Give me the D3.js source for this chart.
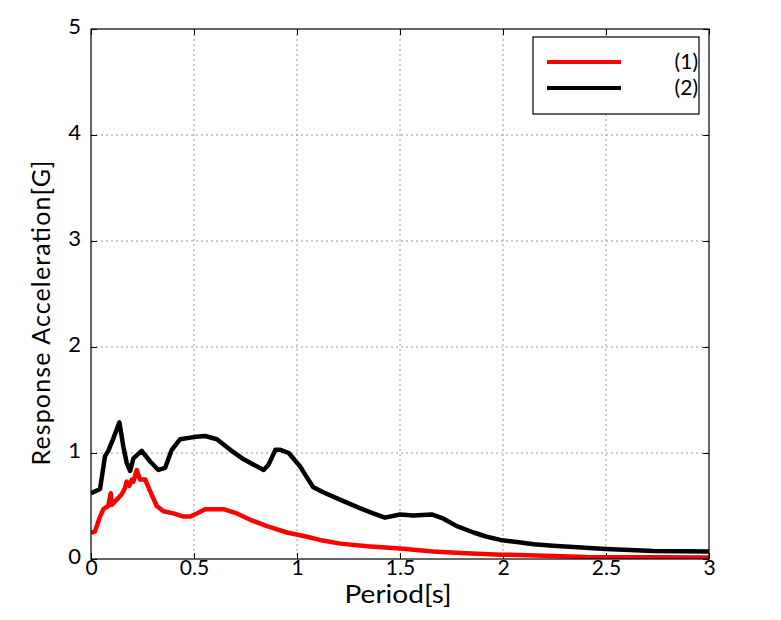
<!DOCTYPE html>
<html><head><meta charset="utf-8">
<script src="https://cdn.jsdelivr.net/npm/d3@7"></script>
<style>body{margin:0;background:#fff}svg{display:block}text{font-family:Lato,"DejaVu Sans",sans-serif}</style>
</head><body><svg id="c" width="781" height="620"></svg>
<script>
const seriesNames = ["(1)", "(2)"];
const seriesColors = ["#ff0000", "#000000"];
const periods1 = [0,0.019,0.044,0.06,0.084,0.096,0.1,0.125,0.149,0.165,0.173,0.186,0.198,0.206,0.222,0.238,0.263,0.287,0.319,0.352,0.4,0.449,0.481,0.514,0.554,0.643,0.708,0.773,0.854,0.951,1.049,1.11,1.21,1.34,1.5,1.66,1.82,1.99,2.08,2.4,3.0];
const accel1 = [0.245,0.26,0.40,0.47,0.50,0.62,0.51,0.56,0.61,0.67,0.73,0.69,0.75,0.73,0.84,0.75,0.75,0.64,0.50,0.45,0.43,0.40,0.40,0.43,0.47,0.47,0.43,0.37,0.31,0.25,0.21,0.18,0.145,0.12,0.10,0.07,0.055,0.04,0.038,0.02,0.015];
const periods2 = [0,0.044,0.068,0.084,0.109,0.138,0.157,0.173,0.19,0.206,0.246,0.287,0.327,0.36,0.392,0.433,0.498,0.554,0.611,0.676,0.741,0.79,0.838,0.862,0.895,0.919,0.96,1.016,1.045,1.078,1.127,1.208,1.305,1.37,1.427,1.5,1.565,1.654,1.711,1.776,1.857,1.922,1.987,2.068,2.149,2.243,2.5,2.73,3.0];
const accel2 = [0.62,0.66,0.97,1.02,1.14,1.29,1.06,0.91,0.83,0.95,1.02,0.92,0.84,0.86,1.03,1.13,1.15,1.16,1.13,1.03,0.94,0.89,0.84,0.89,1.03,1.03,1.0,0.87,0.78,0.68,0.63,0.56,0.48,0.43,0.39,0.42,0.41,0.42,0.38,0.31,0.25,0.21,0.18,0.16,0.14,0.125,0.094,0.075,0.07];
const xTicks = [0,0.5,1,1.5,2,2.5,3];
const yTicks = [0,1,2,3,4,5];
const xTitle = "Period[s]";
const yTitle = "Response Acceleration[G]";

const svg = d3.select("#c");
const L = 91, R = 709, T = 29, B = 559;
const x = d3.scaleLinear().domain([0,3]).range([L,R]);
const y = d3.scaleLinear().domain([0,5]).range([B,T]);

// grid
const g = svg.append("g");
g.selectAll(".gx").data(xTicks.slice(1,-1)).join("line")
  .attr("x1",d=>x(d)).attr("x2",d=>x(d)).attr("y1",T).attr("y2",B)
  .attr("stroke","#999").attr("stroke-width",1).attr("stroke-dasharray","2,3");
g.selectAll(".gy").data(yTicks.slice(1,-1)).join("line")
  .attr("y1",d=>y(d)).attr("y2",d=>y(d)).attr("x1",L).attr("x2",R)
  .attr("stroke","#999").attr("stroke-width",1).attr("stroke-dasharray","2,3");

// axes
const fmt = d => String(d);
svg.append("g").attr("transform",`translate(0,${B})`)
  .call(d3.axisBottom(x).tickValues(xTicks).tickFormat(fmt).tickSize(-6).tickPadding(1))
  .call(a=>a.select(".domain").remove())
  .call(a=>a.selectAll("text").attr("font-size",21).attr("fill","#000"));
svg.append("g").attr("transform",`translate(${L},0)`)
  .call(d3.axisLeft(y).tickValues(yTicks).tickFormat(fmt).tickSize(-6).tickPadding(10))
  .call(a=>a.select(".domain").remove())
  .call(a=>a.selectAll("text").attr("font-size",22).attr("fill","#000").attr("dy","0.2em"));
svg.append("g").attr("transform",`translate(0,${T})`)
  .call(d3.axisTop(x).tickValues(xTicks).tickFormat("").tickSize(-6))
  .call(a=>a.select(".domain").remove());
svg.append("g").attr("transform",`translate(${R},0)`)
  .call(d3.axisRight(y).tickValues(yTicks).tickFormat("").tickSize(-6))
  .call(a=>a.select(".domain").remove());

// lines
const line = d3.line().x(d=>x(d[0])).y(d=>y(d[1]));
const data = [d3.zip(periods1,accel1), d3.zip(periods2,accel2)];
svg.append("defs").append("clipPath").attr("id","clp").append("rect")
  .attr("x",L).attr("y",T).attr("width",R-L).attr("height",B-T);
svg.append("g").attr("clip-path","url(#clp)").selectAll("path").data(data).join("path")
  .attr("d",line).attr("fill","none").attr("stroke",(d,i)=>seriesColors[i])
  .attr("stroke-width",4.5).attr("stroke-linejoin","round");

// frame
svg.append("rect").attr("x",L).attr("y",T).attr("width",R-L).attr("height",B-T)
  .attr("fill","none").attr("stroke","#000").attr("stroke-width",1.2);

// legend
const lg = svg.append("g");
lg.append("rect").attr("x",533).attr("y",37).attr("width",166).attr("height",77)
  .attr("fill","#fff").attr("stroke","#000").attr("stroke-width",1.2);
seriesNames.forEach((n,i)=>{
  const yy = 62 + i*26;
  lg.append("line").attr("x1",547).attr("x2",621).attr("y1",yy).attr("y2",yy)
    .attr("stroke",seriesColors[i]).attr("stroke-width",4);
  lg.append("text").attr("x",698).attr("y",yy).attr("dy","0.35em").attr("text-anchor","end")
    .attr("font-size",21).text(n);
});

// titles
svg.append("text").attr("x",398).attr("y",603).attr("text-anchor","middle").attr("font-size",25)
  .attr("textLength",107).attr("lengthAdjust","spacingAndGlyphs").text(xTitle);
svg.append("text").attr("transform","translate(50,313) rotate(-90)").attr("text-anchor","middle").attr("font-size",25)
  .attr("textLength",305).attr("lengthAdjust","spacing").text(yTitle);
</script></body></html>
